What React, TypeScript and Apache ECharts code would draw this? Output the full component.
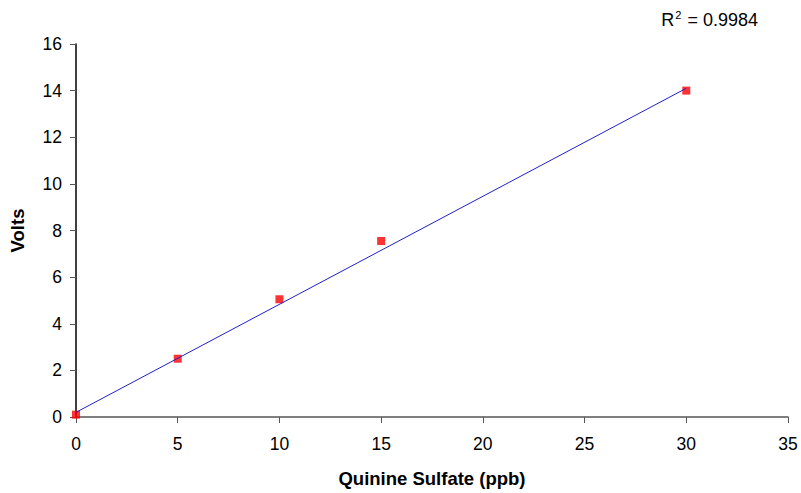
import React, { useEffect, useRef } from "react";
import * as echarts from "echarts";

const concentrations = [0, 5, 10, 15, 30];
const volts = [0.1, 2.5, 5.05, 7.55, 14.0];
const trendX = [0, 30];
const trendY = [0.2, 14.1];
const rSquared = "0.9984";

export default function App() {
  const ref = useRef<HTMLDivElement>(null);
  useEffect(() => {
    if (!ref.current) return;
    const chart = echarts.init(ref.current, null, { renderer: "svg" });
    const font = "Liberation Sans, Arial, sans-serif";
    chart.setOption({
      animation: false,
      backgroundColor: "#ffffff",
      grid: { left: 76, right: 13, top: 44, bottom: 76, containLabel: false },
      title: {
        text: "{a|R}{s|2}{a| = " + rSquared + "}",
        right: 38,
        top: 4,
        textStyle: {
          fontWeight: "normal",
          rich: {
            a: { fontSize: 18, fontFamily: font, color: "#000", fontWeight: "normal" },
            s: { fontSize: 11, fontFamily: font, color: "#000", fontWeight: "normal", verticalAlign: "top", padding: [0, 1, 10, 1] },
          },
        },
      },
      xAxis: {
        type: "value",
        min: 0,
        max: 35,
        interval: 5,
        name: "Quinine Sulfate (ppb)",
        nameLocation: "middle",
        nameGap: 52,
        nameTextStyle: { fontSize: 18.5, fontWeight: "bold", fontFamily: font, color: "#000" },
        axisLine: { show: true, lineStyle: { color: "#555", width: 1.5 } },
        axisTick: { show: true, inside: false, length: 6, lineStyle: { color: "#555" } },
        axisLabel: { fontSize: 17.5, fontFamily: font, color: "#000", margin: 18 },
        splitLine: { show: false },
      },
      yAxis: {
        type: "value",
        min: 0,
        max: 16,
        interval: 2,
        name: "Volts",
        nameLocation: "middle",
        nameGap: 49,
        nameTextStyle: { fontSize: 18.5, fontWeight: "bold", fontFamily: font, color: "#000" },
        axisLine: { show: true, lineStyle: { color: "#000", width: 1.5 } },
        axisTick: { show: true, inside: false, length: 6, lineStyle: { color: "#555" } },
        axisLabel: { fontSize: 17.5, fontFamily: font, color: "#000", margin: 14 },
        splitLine: { show: false },
      },
      series: [
        {
          type: "line",
          data: trendX.map((x, i) => [x, trendY[i]]),
          symbol: "none",
          lineStyle: { color: "#2020c8", width: 1 },
          silent: true,
        },
        {
          type: "scatter",
          data: concentrations.map((x, i) => [x, volts[i]]),
          symbol: "rect",
          symbolSize: 8,
          itemStyle: { color: "#ff0000" },
        },
      ],
    });
    return () => chart.dispose();
  }, []);
  return <div ref={ref} style={{ width: 801, height: 493, position: "absolute", left: 0, top: 0 }} />;
}
